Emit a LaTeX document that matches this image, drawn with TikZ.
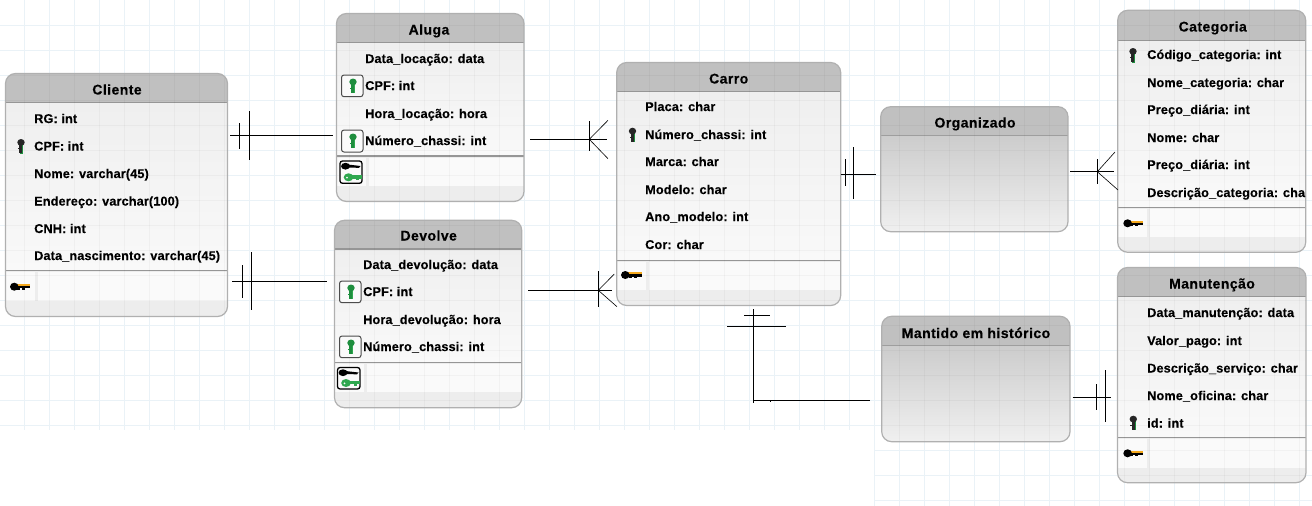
\documentclass[tikz,border=0pt]{standalone}
\usepackage{fontspec}
\setmainfont{Liberation Sans}[LetterSpace=1,BoldFeatures={FakeBold=0.25}]
\newfontfamily\titlefont{Liberation Sans}[LetterSpace=3.2,BoldFeatures={FakeBold=0.25}]
\usetikzlibrary{calc}
\definecolor{gridc}{HTML}{EAF2F7}
\definecolor{hdr}{HTML}{C0C0C0}
\definecolor{edge}{HTML}{B0B0B0}
\definecolor{bodya}{HTML}{EFEFEF}
\definecolor{bodyb}{HTML}{F9F9F9}
\definecolor{cellc}{HTML}{FAFAFA}
\definecolor{footc}{HTML}{EDEDED}
\definecolor{keygreen}{HTML}{1E8E3E}
\definecolor{keygreenb}{HTML}{2FA84F}
\definecolor{keyorange}{HTML}{F5A81C}
\tikzset{
  attr/.style={anchor=base west,inner sep=0pt,font=\bfseries\fontsize{12.7}{14}\selectfont,text=black},
  ttl/.style={anchor=base,inner sep=0pt,font=\titlefont\bfseries\fontsize{14}{16}\selectfont,text=black},
  rel/.style={draw=black,line width=1pt},
  fine/.style={draw=black,line width=.6pt},
  tblframe/.style={draw=edge,line width=1.2pt,rounded corners=10pt,fill=none,inner sep=0pt},
  keybox/.style={rounded corners=2.5pt,line width=1pt,fill=cellc}
}
% \tbl{name}{x1}{y1}{x2}{y2}{header bottom}{divider}{index bottom}
\newcommand{\tbl}[8]{%
  \begin{scope}
    \clip[rounded corners=10pt] (#2,#3) rectangle (#4,#5);
    \fill[hdr] (#2,#3) rectangle (#4,#6);
    \shade[top color=bodya,bottom color=bodyb] (#2,#6) rectangle (#4,#7);
    \fill[footc] (#2,#7) rectangle (#4,#5);
    \fill[cellc] (#2,#7+1.5) rectangle (#2+29,#8);
    \fill[cellc] (#2+32,#7+1.5) rectangle (#4,#8);
    \draw[edge!85!black,line width=1.4pt] (#2,#6) -- (#4,#6);
    \draw[edge!85!black,line width=1.4pt] (#2,#7) -- (#4,#7);
  \end{scope}
  \node[tblframe,minimum width=#4pt-#2pt,minimum height=#5pt-#3pt] (#1) at ({(#2+#4)/2},{(#3+#5)/2}) {};
}
% \rln{name}{x1}{y1}{x2}{y2}{header bottom}
\newcommand{\rln}[6]{%
  \begin{scope}
    \clip[rounded corners=10pt] (#2,#3) rectangle (#4,#5);
    \fill[hdr] (#2,#3) rectangle (#4,#6);
    \shade[top color=black!20,bottom color=black!6] (#2,#6) rectangle (#4,#5);
    \draw[black!38,line width=.8pt] (#2,#6) -- (#4,#6);
  \end{scope}
  \node[tblframe,minimum width=#4pt-#2pt,minimum height=#5pt-#3pt] (#1) at ({(#2+#4)/2},{(#3+#5)/2}) {};
}
% vertical key: x, top y, head colour, edge colour
\newcommand{\vkey}[4]{%
  \fill[#4] (#1-1.5,#2+5) rectangle (#1+2.3,#2+14.6);
  \fill[#3] (#1,#2+3.4) ellipse (3.7 and 3.4);
  \fill[#3] (#1-1.7,#2+5) rectangle (#1+1.2,#2+14);
  \fill[#3] (#1-3,#2+9) rectangle (#1,#2+10.4);
}
% horizontal key: left x, centre y, colour, length
\newcommand{\hkey}[4]{%
  \fill[#3] (#1+5,#2-2.6) rectangle (#1+#4,#2-.6);
  \fill[black] (#1+5,#2-.8) rectangle (#1+#4,#2+1.5);
  \fill[black] (#1+4.3,#2) ellipse (4.3 and 4);
  \fill[black] (#1+#4-8,#2+1) rectangle (#1+#4-5,#2+3);
  \fill[black] (#1+#4-13,#2+1) rectangle (#1+#4-10.5,#2+2.8);
}
\newcommand{\gkey}[6]{% box x1 y1 x2 y2, key x, key top
  \draw[keybox,draw=black!70] (#1,#2) rectangle (#3,#4);
  \vkey{#5}{#6}{keygreen}{keygreenb}
}
\newcommand{\dkey}[4]{% box
  \draw[keybox,draw=black,line width=1.3pt] (#1,#2) rectangle (#3,#4);
  \fill[black] (#1+5.5,#2+5.2) ellipse (4.5 and 3.4);
  \fill[black] (#1+7,#2+3.4) -- (#3-1.5,#2+5) -- (#3-3,#2+6.8) -- (#1+7,#2+6.6) -- cycle;
  \fill[keygreenb] (#1+8.5,#4-6) ellipse (4.8 and 4);
  \fill[keygreenb] (#1+9,#4-8) rectangle (#3-.5,#4-4.8);
  \fill[keygreenb] (#3-6,#4-5) rectangle (#3-3,#4-3);
  \fill[cellc] (#1+7,#4-5.6) circle (1);
}
\newcommand{\tick}[4]{\draw[rel,line width=.9pt] (#1,#2) -- (#3,#4);}
\begin{document}
\begin{tikzpicture}[x=1pt,y=-1pt]
\useasboundingbox (0,0) rectangle (1312,506);
\fill[white] (0,0) rectangle (1312,506);
% grid
\foreach \gx in {24,49,...,1300} {\draw[gridc,line width=.9pt] (\gx,0) -- (\gx,430);}
\foreach \gy in {25,50,...,425} {\draw[gridc,line width=.9pt] (0,\gy) -- (1312,\gy);}
\foreach \gx in {874,899,...,1300} {\draw[gridc,line width=.9pt] (\gx,430) -- (\gx,506);}
\foreach \gy in {450,475,500} {\draw[gridc,line width=.9pt] (874,\gy) -- (1312,\gy);}
% tables
\tbl{cliente}{5.5}{73.5}{227.5}{316.5}{102.7}{270.7}{301}
\tbl{aluga}{336.5}{13.5}{524}{201.5}{42.7}{156}{185.7}
\tbl{devolve}{334.5}{220.3}{521.7}{407.7}{249}{362.3}{392.3}
\tbl{carro}{616.7}{62.5}{840.7}{305.5}{91.7}{260.7}{290}
\tbl{categoria}{1117.7}{10.3}{1305.7}{252.3}{40.7}{207.3}{237.3}
\tbl{manut}{1117.5}{267.5}{1306}{482.7}{296.7}{437.7}{468.3}
\rln{organizado}{880.7}{106.7}{1068}{231.7}{135}
\rln{mantido}{881.7}{316.3}{1070}{441.7}{345.3}
% grid showing faintly through the tables
\begin{scope}[black,opacity=.03]
\foreach \tx/\ty/\ux/\uy in {6/74/227/316,337/14/524/201,335/221/521/407,617/63/840/305,1118/11/1305/252,1118/268/1306/482,881/107/1068/231,882/317/1070/441}{
 \begin{scope}
  \clip[rounded corners=10pt] (\tx,\ty) rectangle (\ux,\uy);
  \foreach \gx in {24,49,...,1300} {\draw[line width=.9pt] (\gx,0) -- (\gx,500);}
  \foreach \gy in {25,50,...,475} {\draw[line width=.9pt] (0,\gy) -- (1312,\gy);}
 \end{scope}}
\end{scope}
% titles
\node[ttl] (t1) at (117,94.5) {Cliente};
\node[ttl] (t2) at (429,34.5) {Aluga};
\node[ttl] (t3) at (428.7,240.5) {Devolve};
\node[ttl] (t4) at (728.7,83.5) {Carro};
\node[ttl] (t5) at (975,127.5) {Organizado};
\node[ttl] (t6) at (976,338) {Mantido em histórico};
\node[ttl] (t7) at (1212.7,31.5) {Categoria};
\node[ttl] (t8) at (1212,288.5) {Manutenção};
% Cliente
\node[attr] (c1) at (34,123) {RG: int};
\node[attr] (c2) at (34,150.5) {CPF: int};
\node[attr] (c3) at (34,178) {Nome: varchar(45)};
\node[attr] (c4) at (34,205.5) {Endereço: varchar(100)};
\node[attr] (c5) at (34,233) {CNH: int};
\node[attr] (c6) at (34,260) {Data\_nascimento: varchar(45)};
% Aluga
\node[attr] (a1) at (365,63) {Data\_locação: data};
\node[attr] (a2) at (365,90) {CPF: int};
\node[attr] (a3) at (365,118) {Hora\_locação: hora};
\node[attr] (a4) at (365,145) {Número\_chassi: int};
% Devolve
\node[attr] (d1) at (363,269) {Data\_devolução: data};
\node[attr] (d2) at (363,296) {CPF: int};
\node[attr] (d3) at (363,324) {Hora\_devolução: hora};
\node[attr] (d4) at (363,351) {Número\_chassi: int};
% Carro
\node[attr] (r1) at (645,111) {Placa: char};
\node[attr] (r2) at (645,139) {Número\_chassi: int};
\node[attr] (r3) at (645,166) {Marca: char};
\node[attr] (r4) at (645,194) {Modelo: char};
\node[attr] (r5) at (645,221) {Ano\_modelo: int};
\node[attr] (r6) at (645,249) {Cor: char};
% Categoria
\node[attr] (g1) at (1147,59) {Código\_categoria: int};
\node[attr] (g2) at (1147,87) {Nome\_categoria: char};
\node[attr] (g3) at (1147,114) {Preço\_diária: int};
\node[attr] (g4) at (1147,142) {Nome: char};
\node[attr] (g5) at (1147,169) {Preço\_diária: int};
\begin{scope}
\clip (1118,180) rectangle (1305,205);
\node[attr] (g6) at (1147,197) {Descrição\_categoria: char};
\end{scope}
% Manutencao
\node[attr] (m1) at (1147,317) {Data\_manutenção: data};
\node[attr] (m2) at (1147,345) {Valor\_pago: int};
\node[attr] (m3) at (1147,372.5) {Descrição\_serviço: char};
\node[attr] (m4) at (1147,400) {Nome\_oficina: char};
\node[attr] (m5) at (1147,427.5) {id: int};
% keys
\vkey{21}{139}{black!85}{keygreen}
\vkey{632.5}{127.7}{black!85}{keygreen}
\vkey{1133}{48}{black!85}{keygreen}
\vkey{1133.3}{415.7}{black!85}{keygreen}
\gkey{341.5}{75}{363}{96.7}{353}{78.5}
\gkey{341.5}{130}{363}{152}{353}{133.5}
\gkey{339.5}{281}{361}{302.7}{351}{284.5}
\gkey{339.5}{336}{361}{357.7}{351}{339.5}
\dkey{340}{161}{362}{183.3}
\dkey{337.5}{367.5}{360}{389}
\hkey{10}{286.7}{keyorange}{20}
\hkey{621}{275}{keyorange}{21}
\hkey{1123.3}{223.3}{keyorange}{20}
\hkey{1123.3}{453.3}{keyorange}{20}
% connectors
\coordinate (e1a) at (230,135.3); \coordinate (e1b) at (333,135.3);
\draw[rel] (e1a) -- (e1b);
\tick{239.5}{123}{239.5}{149}\tick{249.5}{111}{249.5}{160}
\coordinate (e2a) at (232,281.3); \coordinate (e2b) at (327,281.3);
\draw[rel] (e2a) -- (e2b);
\tick{242.5}{265}{242.5}{298}\tick{251.5}{252}{251.5}{310}
\coordinate (e3a) at (530,139.3); \coordinate (e3b) at (607,139.3);
\draw[rel] (e3a) -- (e3b);
\tick{589.3}{121}{589.3}{151}
\draw[fine] (589.3,139.3) -- (608,120.3);
\draw[fine] (589.3,139.3) -- (608,158.7);
\coordinate (e4a) at (528,290.3); \coordinate (e4b) at (611.7,290.3);
\draw[rel] (e4a) -- (e4b);
\tick{598.3}{271}{598.3}{306.7}
\draw[fine] (598.3,290.3) -- (614.3,274);
\draw[fine] (598.3,290.3) -- (617,306.7);
\coordinate (e5a) at (841,174.3); \coordinate (e5b) at (876,174.3);
\draw[rel] (e5a) -- (e5b);
\tick{845.7}{159}{845.7}{185.7}\tick{853.3}{147}{853.3}{198.7}
\coordinate (e6a) at (1070,171.7); \coordinate (e6b) at (1114,171.7);
\draw[rel] (e6a) -- (e6b);
\tick{1097.3}{159.3}{1097.3}{184.3}
\draw[fine] (1097.3,171.7) -- (1115,152);
\draw[fine] (1097.3,171.7) -- (1118,190);
\coordinate (e7a) at (753.3,309); \coordinate (e7c) at (753.3,402.7);
\coordinate (e7d) at (753.3,400); \coordinate (e7b) at (870,400);
\draw[rel] (e7a) -- (e7c);
\draw[rel] (e7d) -- (e7b);
\tick{744}{315}{770}{315}\tick{727}{326}{786}{326}
\fill[black] (769.5,400) rectangle (770.5,402);
\coordinate (e8a) at (1072.7,397.3); \coordinate (e8b) at (1111,397.3);
\draw[rel] (e8a) -- (e8b);
\tick{1096.3}{384}{1096.3}{410}\tick{1105.7}{370}{1105.7}{422}
\end{tikzpicture}
\end{document}
